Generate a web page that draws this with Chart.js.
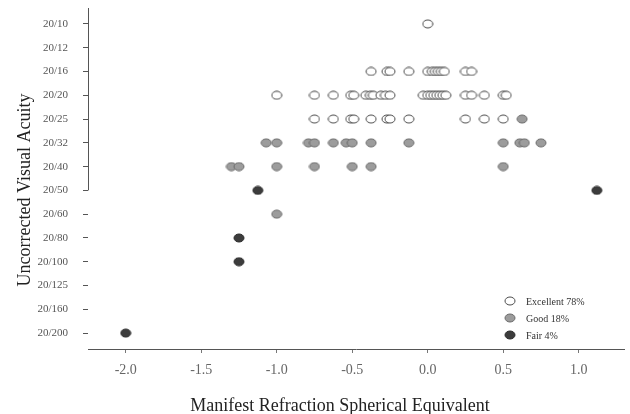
<!DOCTYPE html>
<html><head><meta charset="utf-8">
<script src="https://cdn.jsdelivr.net/npm/chart.js@4"></script>
<style>html,body{margin:0;padding:0;background:#fff}canvas{display:block}</style>
</head><body>
<canvas id="c" width="630" height="414"></canvas>
<script>
const acuityLabels = ['20/10','20/12','20/16','20/20','20/25','20/32','20/40','20/50','20/60','20/80','20/100','20/125','20/160','20/200'];
const xTickValues = [-2.0,-1.5,-1.0,-0.5,0.0,0.5,1.0];
const seriesNames = ['Excellent 78%','Good 18%','Fair 4%'];

const excellentSE = [0.0,
  -0.375,-0.27,-0.25,-0.125,0.0,0.03,0.05,0.07,0.09,0.11,0.25,0.29,
  -1.0,-0.75,-0.625,-0.51,-0.49,-0.41,-0.38,-0.36,-0.31,-0.28,-0.25,-0.03,0.0,0.02,0.04,0.06,0.08,0.1,0.12,0.25,0.29,0.375,0.5,0.52,
  -0.75,-0.625,-0.51,-0.49,-0.375,-0.27,-0.25,-0.125,0.25,0.375,0.5];
const excellentVA = ['20/10',
  '20/16','20/16','20/16','20/16','20/16','20/16','20/16','20/16','20/16','20/16','20/16','20/16',
  '20/20','20/20','20/20','20/20','20/20','20/20','20/20','20/20','20/20','20/20','20/20','20/20','20/20','20/20','20/20','20/20','20/20','20/20','20/20','20/20','20/20','20/20','20/20','20/20',
  '20/25','20/25','20/25','20/25','20/25','20/25','20/25','20/25','20/25','20/25','20/25'];

const goodSE = [0.625,
  -1.07,-1.0,-0.79,-0.75,-0.625,-0.54,-0.5,-0.375,-0.125,0.5,0.61,0.64,0.75,
  -1.3,-1.25,-1.0,-0.75,-0.5,-0.375,0.5,
  -1.0];
const goodVA = ['20/25',
  '20/32','20/32','20/32','20/32','20/32','20/32','20/32','20/32','20/32','20/32','20/32','20/32','20/32',
  '20/40','20/40','20/40','20/40','20/40','20/40','20/40',
  '20/60'];

const fairSE = [-1.125,1.12,-1.25,-1.25,-2.0];
const fairVA = ['20/50','20/50','20/80','20/100','20/200'];

function pts(se, va){ return se.map((x,i)=>({x:x, y:acuityLabels.indexOf(va[i])})); }
function ellipse(fill, stroke){
  const c=document.createElement('canvas'); c.width=12; c.height=10;
  const g=c.getContext('2d'); g.beginPath(); g.ellipse(6,5,5,4,0,0,Math.PI*2);
  g.fillStyle=fill; g.fill(); g.lineWidth=1; g.strokeStyle=stroke; g.stroke(); return c;
}
const styles = [ellipse('#ffffff','#4a4a4a'), ellipse('#9c9c9c','#6a6a6a'), ellipse('#3c3c3c','#2a2a2a')];

const serif = '"Liberation Serif", "Times New Roman", serif';

const extras = {
  id:'extras',
  afterDraw(chart){
    const ctx=chart.ctx, ca=chart.chartArea, ys=chart.scales.y;
    ctx.save();
    ctx.strokeStyle='#555'; ctx.lineWidth=1;
    ctx.beginPath(); ctx.moveTo(ca.left+0.5, ca.top); ctx.lineTo(ca.left+0.5, ys.getPixelForValue(7)); ctx.stroke();
    ctx.font='10px '+serif; ctx.fillStyle='#333'; ctx.textBaseline='middle'; ctx.textAlign='left';
    chart.data.datasets.forEach((ds,i)=>{
      const y=301+17*i;
      ctx.drawImage(ds.pointStyle, 510-6, y-5);
      ctx.fillText(ds.label, 526, y+1);
    });
    ctx.fillStyle='#222'; ctx.font='18px '+serif; ctx.textAlign='center';
    ctx.fillText('Manifest Refraction Spherical Equivalent', 340, 406);
    ctx.translate(25,190); ctx.rotate(-Math.PI/2);
    ctx.fillText('Uncorrected Visual Acuity', 0, 0);
    ctx.restore();
  }
};

new Chart(document.getElementById('c'), {
  type:'scatter',
  data:{datasets:[
    {label:seriesNames[0], data:pts(excellentSE,excellentVA), pointStyle:styles[0], pointRadius:5},
    {label:seriesNames[1], data:pts(goodSE,goodVA), pointStyle:styles[1], pointRadius:5},
    {label:seriesNames[2], data:pts(fairSE,fairVA), pointStyle:styles[2], pointRadius:5}
  ]},
  options:{
    responsive:false, animation:false, devicePixelRatio:1,
    layout:{padding:{top:8,right:0,left:0,bottom:0}},
    plugins:{legend:{display:false}, tooltip:{enabled:false}},
    scales:{
      x:{type:'linear', min:-2.25, max:1.30,
        afterBuildTicks:s=>{s.ticks=xTickValues.map(v=>({value:v}));},
        afterFit:s=>{s.height=65; s.paddingLeft=0; s.paddingRight=0;},
        ticks:{callback:v=>Number(v).toFixed(1), font:{family:serif,size:14}, color:'#666', padding:9, autoSkip:false, maxRotation:0},
        grid:{drawOnChartArea:false, tickLength:4, color:'#777'},
        border:{display:true, color:'#555', width:1}},
      y:{type:'linear', reverse:true, min:-0.67, max:13.67,
        afterBuildTicks:s=>{s.ticks=acuityLabels.map((l,i)=>({value:i}));},
        afterFit:s=>{s.width=88; s.paddingTop=0; s.paddingBottom=0;},
        ticks:{callback:v=>acuityLabels[v], font:{family:serif,size:11}, color:'#555', padding:15, autoSkip:false},
        grid:{drawOnChartArea:false, tickLength:5, color:'#555'},
        border:{display:false}}
    }
  },
  plugins:[extras]
});
</script>
</body></html>
